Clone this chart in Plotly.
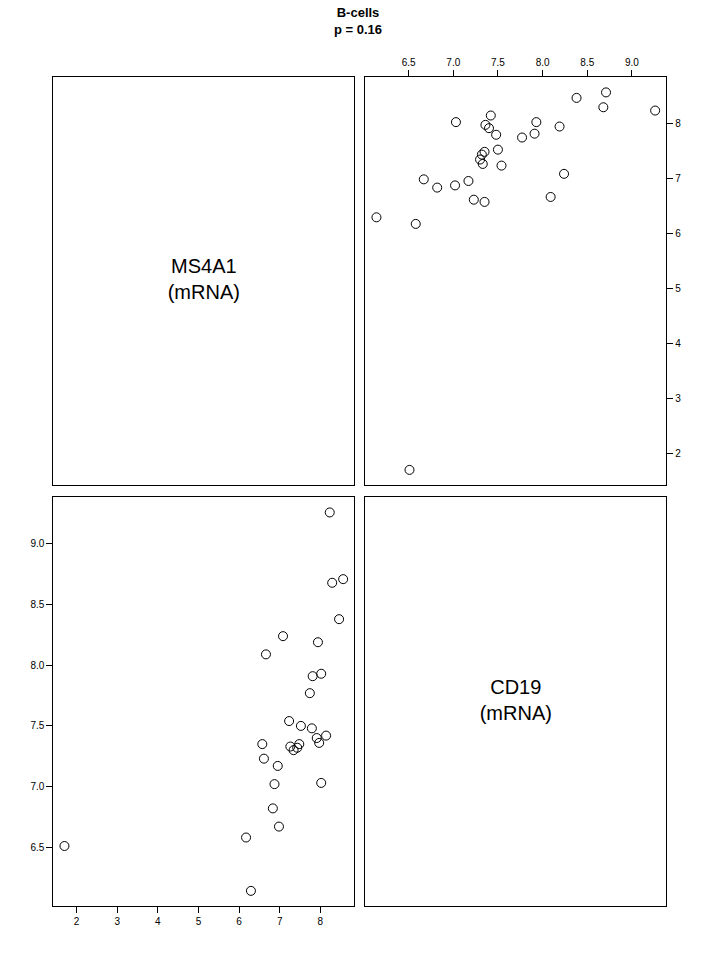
import plotly.graph_objects as go

# expression values per sample
ms4a1 = [8.23, 8.29, 8.56, 8.46, 7.08, 6.66, 7.94, 8.02, 7.81, 7.74,
         7.23, 7.52, 7.79, 8.14, 7.91, 7.97, 6.57, 7.26, 7.48, 7.43,
         7.34, 6.61, 6.95, 6.87, 8.02, 6.83, 6.98, 6.17, 1.70, 6.29]
cd19 = [9.26, 8.68, 8.71, 8.38, 8.24, 8.09, 8.19, 7.93, 7.91, 7.77,
        7.54, 7.50, 7.48, 7.42, 7.40, 7.36, 7.35, 7.33, 7.35, 7.32,
        7.30, 7.23, 7.17, 7.02, 7.03, 6.82, 6.67, 6.58, 6.51, 6.14]

ms4a1_ticks = [2, 3, 4, 5, 6, 7, 8]
cd19_ticks = [6.5, 7.0, 7.5, 8.0, 8.5, 9.0]

title = "<b>B-cells<br>p = 0.16</b>"
labels = ["MS4A1<br>(mRNA)", "CD19<br>(mRNA)"]

W, H = 720, 960


def padded(vals):
    lo, hi = min(vals), max(vals)
    d = (hi - lo) * 0.04
    return [lo - d, hi + d]


def xd(a, b):
    return [a / W, b / W]


def yd(top, bottom):
    return [1 - bottom / H, 1 - top / H]


col1 = xd(53.3, 354.3)
col2 = xd(365.3, 666.3)
row1 = yd(77.3, 485)
row2 = yd(497.3, 906)

frame = dict(showline=True, linecolor="black", linewidth=1, mirror=True,
             showgrid=False, zeroline=False)
tickfont = dict(family="Liberation Sans, Arial", size=10, color="black")
ticks = dict(ticks="outside", ticklen=6, tickwidth=1, tickcolor="black",
             tickfont=tickfont)
blank = dict(frame, showticklabels=False, ticks="", range=[0, 1], fixedrange=True)

marker = dict(symbol="circle-open", size=9, color="black", line=dict(width=1))
labelfont = dict(family="Liberation Sans, Arial", size=20, color="black")

fig = go.Figure()
fig.add_trace(go.Scatter(x=[0.5], y=[0.5], mode="text", text=[labels[0]],
                         textfont=labelfont, xaxis="x", yaxis="y",
                         showlegend=False, hoverinfo="skip"))
fig.add_trace(go.Scatter(x=cd19, y=ms4a1, mode="markers", marker=marker,
                         xaxis="x2", yaxis="y2", showlegend=False))
fig.add_trace(go.Scatter(x=ms4a1, y=cd19, mode="markers", marker=marker,
                         xaxis="x3", yaxis="y3", showlegend=False))
fig.add_trace(go.Scatter(x=[0.5], y=[0.5], mode="text", text=[labels[1]],
                         textfont=labelfont, xaxis="x4", yaxis="y4",
                         showlegend=False, hoverinfo="skip"))

fig.update_layout(
    width=W, height=H,
    margin=dict(l=0, r=0, t=0, b=0),
    paper_bgcolor="white", plot_bgcolor="white",
    font=dict(family="Liberation Sans, Arial", color="black"),
    xaxis=dict(blank, domain=col1, anchor="y"),
    yaxis=dict(blank, domain=row1, anchor="x"),
    xaxis2=dict(frame, **ticks, domain=col2, anchor="y2", side="top",
                range=padded(cd19), tickvals=cd19_ticks, tickformat=".1f"),
    yaxis2=dict(frame, **ticks, domain=row1, anchor="x2", side="right",
                range=padded(ms4a1), tickvals=ms4a1_ticks),
    xaxis3=dict(frame, **ticks, domain=col1, anchor="y3",
                range=padded(ms4a1), tickvals=ms4a1_ticks),
    yaxis3=dict(frame, **ticks, domain=row2, anchor="x3",
                range=padded(cd19), tickvals=cd19_ticks, tickformat=".1f"),
    xaxis4=dict(blank, domain=col2, anchor="y4"),
    yaxis4=dict(blank, domain=row2, anchor="x4"),
    annotations=[
        dict(text=title, x=358 / W, y=1 - 3 / H,
             xref="paper", yref="paper", xanchor="center", yanchor="top",
             showarrow=False,
             font=dict(family="Liberation Sans, Arial", size=13)),
    ],
)

fig.write_html("out.html", config={"displayModeBar": False})

# drop the default 8px body margin so the figure fills the window exactly
with open("out.html", encoding="utf-8") as f:
    page = f.read()
page = page.replace("<body>", '<body style="margin:0">', 1)
with open("out.html", "w", encoding="utf-8") as f:
    f.write(page)
